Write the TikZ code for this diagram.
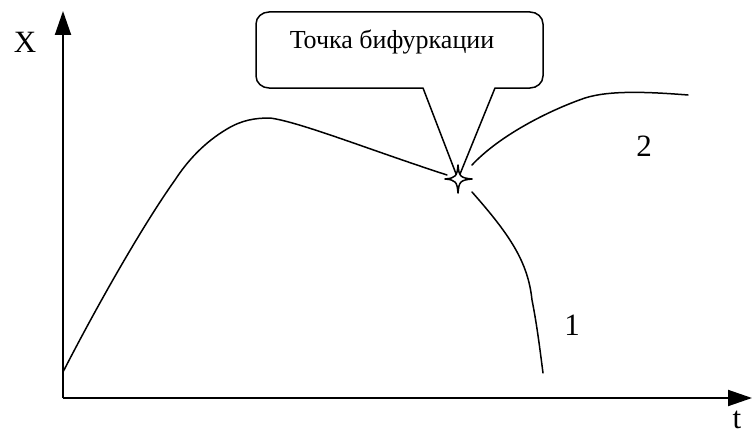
\documentclass[tikz,border=0pt]{standalone}
\usepackage{fontspec}
\setmainfont{Liberation Serif}
\usetikzlibrary{arrows.meta}
\begin{document}
\begin{tikzpicture}[x=1pt,y=-1pt,
  axis/.style={line width=2pt,-{Triangle[length=24pt,width=16pt]}},
  curve/.style={line width=1.5pt,line join=round,line cap=round},
  callout/.style={line width=1.5pt,line join=round,fill=white},
  lbl/.style={font=\fontsize{31}{34}\selectfont,inner sep=0pt},
  boxtext/.style={font=\fontsize{26}{29}\selectfont,inner sep=0pt}]
\useasboundingbox (0,0) rectangle (752,436);
\coordinate (O) at (63,398);
\coordinate (ytop) at (63,11);
\coordinate (xend) at (752,398);
\coordinate (tip) at (458,179);
% axes
\draw[axis] (O) -- (ytop);
\draw[axis] (O) -- (xend);
\node[lbl] (xl) at (25,42) {X};
\node[lbl,anchor=base] (tl) at (737,428) {t};
% main curve
\draw[curve] (63,372) .. controls (100,300) and (145,222) .. (175,180)
  .. controls (188,160) and (205,142) .. (227,129)
  .. controls (242,120) and (255,118) .. (270,118)
  .. controls (300,122) and (370,150) .. (447,175);
% branch 1
\draw[curve] (472,192) .. controls (510,235) and (528,262) .. (532,300)
  .. controls (537,325) and (540,350) .. (543,373);
% branch 2
\draw[curve] (472,165) .. controls (500,135) and (550,110) .. (585,98)
  .. controls (610,90) and (650,92) .. (688,95);
% callout
\draw[callout] (423,88) -- (tip) -- (495,88) -- (530,88)
  to[out=0,in=-90] (543,76) -- (543,24) to[out=90,in=0] (530,12)
  -- (269,12) to[out=180,in=90] (256,24) -- (256,76)
  to[out=-90,in=180] (269,88) -- cycle;
\node[boxtext] (bt) at (392,42) {Точка бифуркации};
% star
\draw[line width=1.5pt,fill=white,line join=round] (458,165)
  .. controls (459,176) and (460,178) .. (472,179)
  .. controls (460,180) and (459,182) .. (458,193)
  .. controls (457,182) and (456,180) .. (445,179)
  .. controls (456,178) and (457,176) .. cycle;
\node[lbl] (n2) at (644,146) {2};
\node[lbl] (n1) at (572,325) {1};
\end{tikzpicture}
\end{document}
